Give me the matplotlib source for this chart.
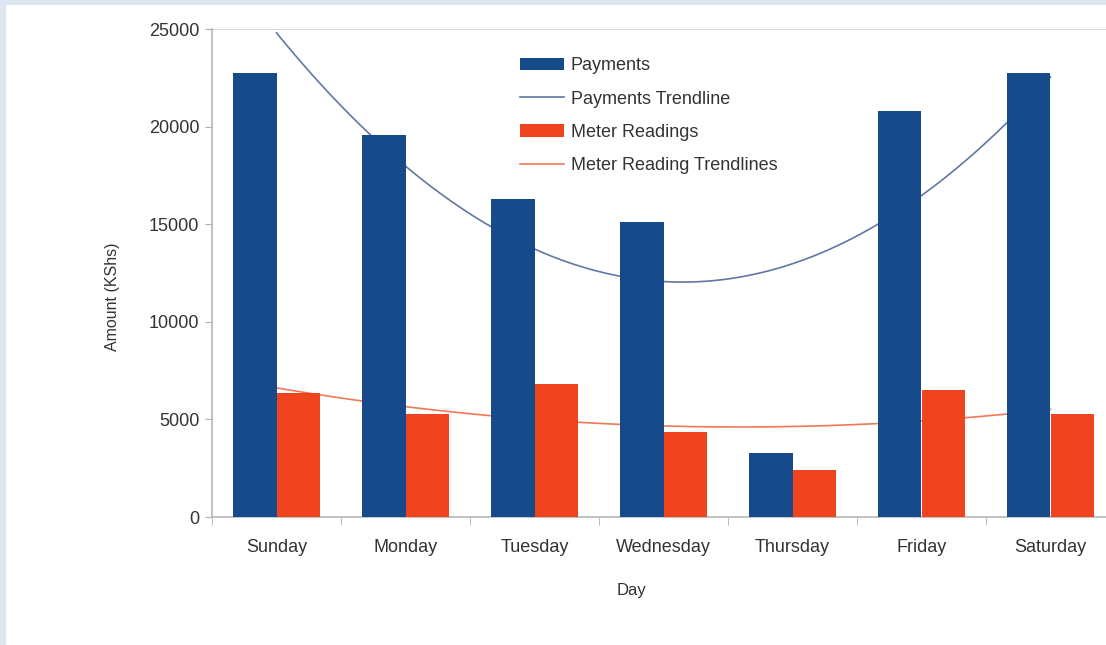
import numpy as np
import matplotlib
matplotlib.use("Agg")
import matplotlib.pyplot as plt
from matplotlib.patches import Rectangle

# ===============================================
# Payments vs meter readings by day
# ===============================================

days = ["Sunday", "Monday", "Tuesday", "Wednesday", "Thursday", "Friday", "Saturday"]
payments = [22750, 19570, 16290, 15110, 3280, 20800, 22750]
meter_readings = [6350, 5280, 6810, 4360, 2410, 6510, 5280]
y_ticks = [0, 5000, 10000, 15000, 20000, 25000]

blue = "#174a8b"
red = "#f0441e"
blue_trend = "#6277a3"
red_trend = "#f07a58"
border = "#dde5f1"

plt.rcParams["font.family"] = ["Liberation Sans", "DejaVu Sans"]

fig = plt.figure(figsize=(11.06, 6.45), dpi=100)
fig.patch.set_facecolor(border)
fig.patches.append(Rectangle((6 / 1106, 0), 1, 1 - 5 / 645, transform=fig.transFigure,
                             facecolor="white", edgecolor="none", zorder=-5))

# axes runs past the right edge of the figure, like the cropped original
ax = fig.add_axes([212 / 1106, 1 - 517 / 645, 903 / 1106, 488 / 645])
ax.set_zorder(2)
ax.set_facecolor("none")

x = np.arange(len(days))
w = 0.335
ax.bar(x - w / 2, payments, w, color=blue, label="Payments", zorder=3)
ax.bar(x + w / 2, meter_readings, w, color=red, label="Meter Readings", zorder=3)

# polynomial (order 2) trendlines, as in the spreadsheet chart
xs = np.linspace(0, 6, 300)
p_fit = np.polyfit(x, payments, 2)
m_fit = np.polyfit(x, meter_readings, 2)
ax.plot(xs, np.polyval(p_fit, xs), color=blue_trend, lw=1.2, zorder=2,
        label="Payments Trendline")
ax.plot(xs, np.polyval(m_fit, xs), color=red_trend, lw=1.2, zorder=2,
        label="Meter Reading Trendlines")

ax.set_xlim(-0.5, 6.5)
ax.set_ylim(0, 25000)
ax.set_yticks(y_ticks)
ax.set_yticklabels([str(t) for t in y_ticks], fontsize=13, color="#333333")
ax.axhline(25000, color="#cfcfcf", lw=1.2, zorder=1)

ax.set_xticks(x)
ax.set_xticklabels(days, fontsize=13, color="#333333")
ax.tick_params(axis="x", length=0, pad=16)
ax.set_xticks(np.arange(-0.5, 7, 1), minor=True)
ax.tick_params(axis="x", which="minor", length=6, color="#b0b0b0", direction="out")
ax.tick_params(axis="y", length=5, color="#b0b0b0", pad=4)

for s in ["top", "right"]:
    ax.spines[s].set_visible(False)
for s in ["left", "bottom"]:
    ax.spines[s].set_color("#b8b8b8")
    ax.spines[s].set_linewidth(1.2)

fig.text(632 / 1106, 1 - 590 / 645, "Day", fontsize=12, color="#333333",
         ha="center", va="center")
fig.text(113 / 1106, 1 - 297 / 645, "Amount (KShs)", fontsize=11.5, color="#333333",
         ha="center", va="center", rotation=90)

handles, labels = ax.get_legend_handles_labels()
order = ["Payments", "Payments Trendline", "Meter Readings", "Meter Reading Trendlines"]
hmap = dict(zip(labels, handles))
leg = ax.legend([hmap[k] for k in order], order, loc="upper left",
                bbox_to_anchor=(0.3234, 1 - 12 / 488), frameon=False,
                fontsize=13, handlelength=2.4, handleheight=0.7,
                labelspacing=0.9, handletextpad=0.4)
for t in leg.get_texts():
    t.set_color("#333333")

fig.savefig("out.png", dpi=100, facecolor=fig.get_facecolor())
